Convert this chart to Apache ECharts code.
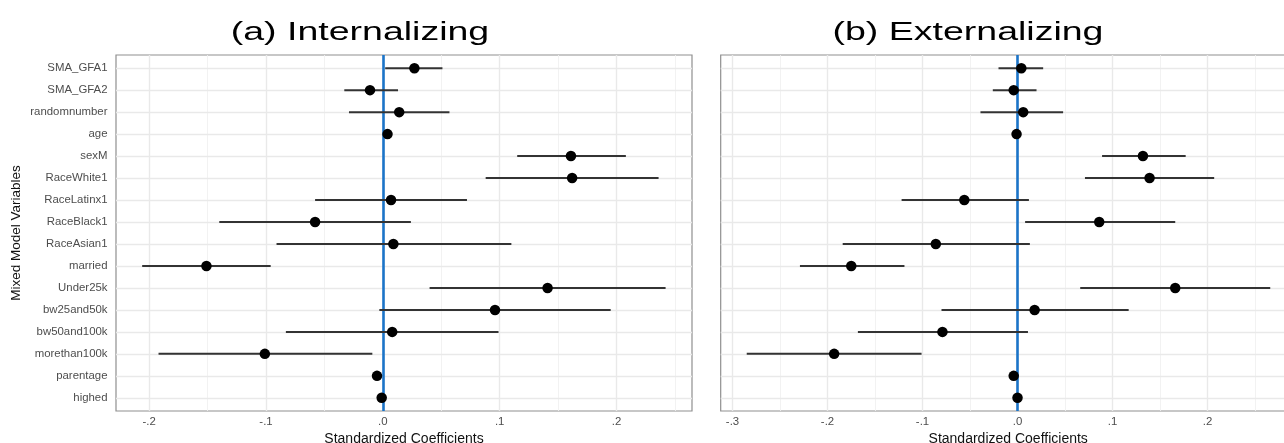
<!DOCTYPE html>
<html>
<head>
<meta charset="utf-8">
<script src="https://cdn.jsdelivr.net/npm/echarts@6/dist/echarts.min.js"></script>
<style>html,body{margin:0;padding:0;background:#fff;}#chart{width:1284px;height:443px;}</style>
</head>
<body>
<div id="chart"></div>
<script>
// ---- data ----
const categories = ['SMA_GFA1','SMA_GFA2','randomnumber','age','sexM','RaceWhite1','RaceLatinx1','RaceBlack1','RaceAsian1','married','Under25k','bw25and50k','bw50and100k','morethan100k','parentage','highed'];

const intEst  = [0.027, -0.011, 0.014, 0.004, 0.161, 0.162, 0.007, -0.058, 0.009, -0.151, 0.141, 0.096, 0.008, -0.101, -0.005, -0.001];
const intLow  = [0.002, -0.033, -0.029, 0.002, 0.115, 0.088, -0.058, -0.140, -0.091, -0.206, 0.040, -0.003, -0.083, -0.192, -0.007, -0.003];
const intHigh = [0.051, 0.013, 0.057, 0.006, 0.208, 0.236, 0.072, 0.024, 0.110, -0.096, 0.242, 0.195, 0.099, -0.009, -0.003, 0.001];

const extEst  = [0.004, -0.004, 0.006, -0.001, 0.132, 0.139, -0.056, 0.086, -0.086, -0.175, 0.166, 0.018, -0.079, -0.193, -0.004, 0.000];
const extLow  = [-0.020, -0.026, -0.039, -0.003, 0.089, 0.071, -0.122, 0.008, -0.184, -0.229, 0.066, -0.080, -0.168, -0.285, -0.006, -0.002];
const extHigh = [0.027, 0.020, 0.048, 0.001, 0.177, 0.207, 0.012, 0.166, 0.013, -0.119, 0.266, 0.117, 0.011, -0.101, -0.002, 0.002];

const intMajorTicks = [-0.2, -0.1, 0, 0.1, 0.2];
const intMinorTicks = [-0.15, -0.05, 0.05, 0.15, 0.25];
const extMajorTicks = [-0.3, -0.2, -0.1, 0, 0.1, 0.2];
const extMinorTicks = [-0.25, -0.15, -0.05, 0.05, 0.15, 0.25];
const refLine = [0];

const titles = ['(a) Internalizing', '(b) Externalizing'];
const xTitle = 'Standardized Coefficients';
const yTitle = 'Mixed Model Variables';

// ---- layout ----
const FONT = 'Liberation Sans, Arial, Helvetica, sans-serif';
const rowIdx = categories.map((_, i) => i);
const xLim = [[-0.2284, 0.2646], [-0.3124, 0.2928]];

function fmtTick(v) {
  let s = Number(v).toFixed(1);
  return s.replace('0.', '.');
}

function xAxisCfg(gi, major) {
  return {
    gridIndex: gi, type: 'value', min: xLim[gi][0], max: xLim[gi][1],
    axisLine: { show: false },
    splitLine: { show: false },
    axisTick: { show: true, length: 4, customValues: major, lineStyle: { color: '#333', width: 1 } },
    axisLabel: { customValues: major, formatter: fmtTick, color: '#4d4d4d', fontSize: 11.4, fontFamily: FONT, margin: 5 },
    name: xTitle, nameLocation: 'middle', nameGap: 15,
    nameTextStyle: { fontSize: 14, color: '#111', fontFamily: FONT }
  };
}
function yAxisCfg(gi) {
  return {
    gridIndex: gi, type: 'value', inverse: true, min: -0.6, max: 15.6,
    axisLine: { show: false },
    splitLine: { show: false },
    axisTick: { show: true, length: 4, customValues: rowIdx, lineStyle: { color: '#333', width: 1 } },
    axisLabel: { show: gi === 0, customValues: rowIdx, formatter: v => categories[Math.round(v)] || '',
      color: '#4d4d4d', fontSize: 11.4, fontFamily: FONT, margin: 8.5 }
  };
}

function lineLayer(gi, items, color, width, z) {
  return {
    type: 'scatter', xAxisIndex: gi, yAxisIndex: gi, z: z, silent: true,
    symbolSize: 0, data: [],
    markLine: {
      silent: true, animation: false, symbol: ['none', 'none'],
      label: { show: false }, emphasis: { disabled: true },
      lineStyle: { color: color, width: width, type: 'solid' },
      data: items
    }
  };
}
function errSeries(gi, lo, hi) {
  return {
    type: 'custom', xAxisIndex: gi, yAxisIndex: gi, z: 5, silent: true,
    data: lo.map((l, i) => [l, hi[i], i]),
    encode: { x: [0, 1], y: 2 },
    renderItem: function (params, api) {
      const a = api.coord([api.value(0), api.value(2)]);
      const b = api.coord([api.value(1), api.value(2)]);
      return { type: 'line', shape: { x1: a[0], y1: a[1], x2: b[0], y2: b[1] },
        style: { stroke: '#333', lineWidth: 2, fill: null } };
    }
  };
}
function ptSeries(gi, est) {
  return {
    type: 'scatter', xAxisIndex: gi, yAxisIndex: gi, z: 8, silent: true,
    symbol: 'circle', symbolSize: 10.5,
    itemStyle: { color: '#000', opacity: 1 },
    data: est.map((e, i) => [e, i])
  };
}

const series = [];
[[intMajorTicks, intMinorTicks, intLow, intHigh, intEst], [extMajorTicks, extMinorTicks, extLow, extHigh, extEst]].forEach((d, gi) => {
  series.push(lineLayer(gi, d[1].map(v => ({ xAxis: v })), '#f1f1f1', 0.9, 1));
  series.push(lineLayer(gi, d[0].map(v => ({ xAxis: v })), '#e9e9e9', 1.4, 1));
  series.push(lineLayer(gi, rowIdx.map(v => ({ yAxis: v })), '#e9e9e9', 1.4, 1));
  series.push(errSeries(gi, d[2], d[3]));
  series.push(lineLayer(gi, refLine.map(v => ({ xAxis: v })), '#1b74c8', 2.6, 6));
  series.push(ptSeries(gi, d[4]));
});

const chart = echarts.init(document.getElementById('chart'), null, { renderer: 'canvas' });
chart.setOption({
  animation: false,
  backgroundColor: '#ffffff',
  grid: [
    { left: 116, top: 55, width: 576, height: 356, outerBoundsMode: 'none', containLabel: false, show: true, borderColor: '#8f8f8f', borderWidth: 1.2, backgroundColor: 'transparent' },
    { left: 720.7, top: 55, width: 575, height: 356, outerBoundsMode: 'none', containLabel: false, show: true, borderColor: '#8f8f8f', borderWidth: 1.2, backgroundColor: 'transparent' }
  ],
  xAxis: [xAxisCfg(0, intMajorTicks), xAxisCfg(1, extMajorTicks)],
  yAxis: [yAxisCfg(0), yAxisCfg(1)],
  series: series,
  graphic: [
    { type: 'text', x: 360, y: 33, scaleX: 1.5, style: { text: titles[0], fontSize: 25, fontFamily: FONT, fill: '#000', align: 'center', verticalAlign: 'middle' } },
    { type: 'text', x: 968, y: 33, scaleX: 1.5, style: { text: titles[1], fontSize: 25, fontFamily: FONT, fill: '#000', align: 'center', verticalAlign: 'middle' } },
    { type: 'text', x: 16, y: 233, rotation: Math.PI / 2, style: { text: yTitle, fontSize: 13.5, fontFamily: FONT, fill: '#111', align: 'center', verticalAlign: 'middle' } }
  ]
});
</script>
</body>
</html>
